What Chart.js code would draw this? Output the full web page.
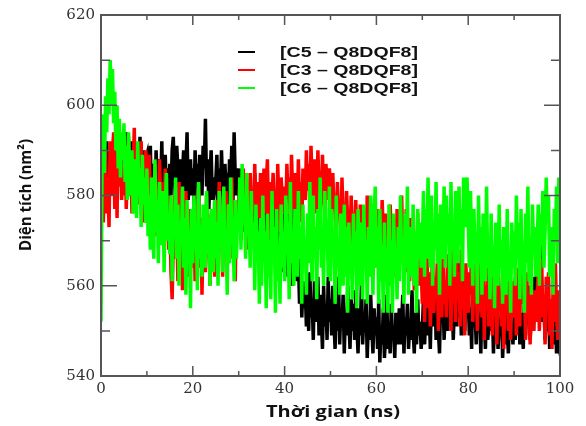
<!DOCTYPE html>
<html>
<head>
<meta charset="utf-8">
<script src="https://cdn.jsdelivr.net/npm/chart.js@4"></script>
<style>
html, body { margin: 0; padding: 0; background: #fff; }
</style>
</head>
<body>
<canvas id="myChart" width="586" height="426"></canvas>
<script>
// series (nm2), one value every 0.25 ns from 0 to 100 ns
const seriesNames = ['[C5 \u2013 Q8DQF8]', '[C3 \u2013 Q8DQF8]', '[C6 \u2013 Q8DQF8]']
const seriesColors = ['#000000', '#ff0000', '#00ff00']
const xTicks = [0, 20, 40, 60, 80, 100]
const yTicks = [540, 560, 580, 600, 620]

const c5 = [
	594, 586, 590, 582, 588, 592, 584, 589, 581, 591, 585, 593, 583, 587, 580, 590, 586, 592, 582, 588,
	591, 583, 594, 586, 580, 589, 584, 592, 579, 587, 590, 582, 588, 585, 593, 581, 586, 590, 578, 588,
	589, 580, 586, 591, 578, 584, 587, 576, 590, 583, 579, 588, 582, 592, 577, 585, 589, 581, 586, 578,
	587, 580, 590, 593, 584, 578, 591, 586, 582, 588, 577, 585, 590, 581, 586, 594, 579, 584, 588, 580,
	586, 578, 590, 583, 587, 576, 589, 584, 580, 591, 586, 597, 582, 588, 577, 585, 590, 579, 584, 581,
	583, 589, 577, 586, 580, 590, 582, 575, 587, 581, 585, 578, 588, 583, 591, 579, 594, 584, 580, 586,
	582, 574, 586, 577, 580, 572, 584, 576, 578, 570, 583, 575, 579, 571, 585, 574, 577, 569, 581, 573,
	578, 570, 582, 573, 576, 567, 580, 571, 574, 566, 579, 569, 575, 564, 577, 570, 572, 563, 576, 568,
	574, 565, 571, 562, 576, 567, 569, 560, 573, 585, 568, 561, 566, 556, 564, 553, 561, 555, 559, 551,
	559, 550, 563, 553, 557, 548, 561, 554, 552, 562, 549, 558, 553, 546, 560, 551, 556, 548, 562, 552,
	557, 549, 560, 552, 546, 556, 550, 562, 547, 555, 551, 558, 545, 554, 549, 560, 553, 546, 557, 550,
	556, 548, 559, 551, 545, 555, 549, 561, 547, 553, 550, 557, 544, 552, 548, 558, 551, 545, 555, 549,
	553, 546, 557, 543, 551, 547, 555, 544, 549, 558, 546, 552, 545, 556, 548, 550, 544, 554, 547, 551,
	555, 547, 552, 558, 545, 553, 549, 556, 546, 551, 548, 559, 550, 545, 554, 547, 557, 549, 552, 546,
	550, 557, 547, 554, 560, 549, 555, 546, 558, 551, 553, 562, 548, 556, 550, 545, 557, 552, 559, 548,
	554, 560, 550, 557, 563, 552, 558, 548, 556, 561, 551, 565, 553, 559, 549, 555, 562, 550, 557, 553,
	558, 549, 555, 546, 561, 551, 554, 547, 559, 550, 553, 545, 557, 549, 552, 546, 556, 548, 551, 554,
	550, 556, 545, 553, 548, 558, 546, 552, 549, 555, 544, 551, 547, 557, 550, 545, 554, 548, 552, 547,
	553, 548, 556, 550, 559, 547, 554, 551, 546, 557, 549, 555, 552, 560, 548, 553, 558, 550, 562, 555,
	568, 574, 563, 571, 558, 552, 556, 548, 554, 550, 557, 546, 553, 549, 555, 547, 552, 545, 551, 548,
	550
]

const c3 = [
	578, 588, 574, 584, 590, 576, 583, 573, 592, 580, 586, 594, 577, 589, 575, 596, 582, 590, 579, 587,
	580, 591, 577, 586, 593, 582, 588, 576, 585, 595, 581, 589, 578, 587, 583, 592, 579, 586, 574, 590,
	585, 576, 589, 580, 572, 584, 578, 587, 571, 582, 575, 588, 579, 570, 583, 577, 586, 573, 580, 568,
	575, 563, 557, 570, 580, 566, 574, 561, 583, 569, 576, 559, 572, 565, 581, 568, 562, 577, 571, 564,
	566, 578, 561, 573, 569, 582, 564, 575, 558, 571, 577, 563, 580, 567, 572, 560, 576, 568, 574, 562,
	569, 579, 564, 583, 571, 575, 562, 578, 567, 581, 573, 565, 577, 570, 584, 566, 574, 561, 579, 572,
	575, 584, 570, 580, 586, 574, 582, 568, 579, 576, 585, 572, 581, 577, 587, 573, 583, 578, 575, 585,
	580, 573, 586, 576, 582, 588, 575, 583, 571, 579, 585, 577, 581, 574, 587, 578, 572, 584, 579, 576,
	582, 576, 587, 579, 584, 573, 589, 581, 577, 585, 580, 575, 588, 578, 583, 574, 586, 582, 579, 590,
	581, 587, 577, 591, 583, 579, 588, 584, 576, 590, 582, 585, 578, 589, 580, 575, 587, 583, 579, 586,
	582, 574, 585, 577, 580, 572, 583, 576, 579, 570, 584, 575, 578, 571, 581, 574, 577, 569, 580, 573,
	576, 568, 579, 571, 574, 566, 578, 572, 569, 577, 573, 565, 580, 570, 575, 567, 578, 571, 564, 576,
	570, 577, 566, 574, 568, 579, 572, 564, 576, 569, 573, 563, 578, 570, 566, 575, 571, 562, 577, 568,
	574, 566, 580, 569, 572, 563, 577, 568, 571, 561, 575, 567, 573, 559, 570, 564, 576, 560, 572, 565,
	556, 566, 552, 562, 568, 555, 563, 551, 560, 567, 554, 561, 557, 565, 550, 563, 558, 553, 566, 556,
	561, 553, 567, 557, 564, 550, 569, 556, 562, 552, 566, 558, 563, 551, 568, 555, 560, 549, 565, 557,
	554, 563, 558, 570, 552, 565, 557, 561, 550, 566, 555, 562, 553, 567, 548, 560, 556, 564, 551, 559,
	557, 549, 563, 553, 560, 547, 566, 554, 558, 551, 562, 546, 559, 555, 564, 550, 557, 548, 561, 553,
	555, 562, 549, 558, 564, 551, 572, 566, 556, 560, 548, 563, 553, 558, 547, 561, 554, 550, 559, 552,
	557, 564, 550, 560, 566, 553, 558, 547, 562, 555, 563, 549, 557, 546, 561, 552, 565, 554, 548, 559,
	556
]

const c6 = [
	552, 590, 598, 585, 602, 594, 606, 598, 610, 600, 608, 596, 603, 590, 600, 586, 597, 584, 594, 588,
	596, 583, 591, 579, 594, 585, 580, 590, 576, 588, 583, 575, 592, 580, 586, 573, 589, 578, 584, 574,
	586, 571, 580, 568, 584, 575, 566, 588, 572, 579, 565, 583, 574, 569, 581, 563, 577, 585, 570, 576,
	567, 580, 561, 576, 571, 584, 566, 578, 560, 574, 569, 582, 564, 575, 558, 579, 568, 572, 555, 577,
	565, 580, 568, 574, 559, 583, 566, 571, 562, 578, 570, 564, 581, 567, 575, 560, 577, 569, 563, 579,
	566, 574, 560, 581, 569, 576, 563, 582, 567, 571, 558, 578, 565, 584, 570, 573, 561, 579, 566, 575,
	572, 584, 568, 587, 575, 579, 566, 585, 571, 576, 564, 581, 569, 574, 559, 578, 567, 572, 556, 575,
	560, 580, 565, 572, 555, 576, 562, 568, 557, 581, 566, 573, 554, 577, 561, 569, 556, 578, 564, 572,
	561, 580, 568, 574, 557, 583, 565, 572, 560, 577, 569, 562, 581, 566, 573, 556, 578, 564, 570, 558,
	576, 565, 583, 569, 561, 580, 566, 573, 557, 577, 568, 584, 564, 570, 560, 581, 569, 574, 562, 582,
	561, 577, 568, 572, 556, 580, 564, 570, 558, 576, 566, 560, 578, 562, 573, 554, 574, 565, 569, 557,
	576, 564, 572, 555, 577, 566, 560, 574, 557, 578, 565, 570, 556, 573, 562, 580, 568, 558, 576, 582,
	564, 573, 556, 577, 561, 569, 554, 574, 562, 566, 554, 578, 560, 570, 554, 576, 564, 568, 557, 573,
	561, 580, 565, 570, 556, 576, 564, 582, 558, 573, 568, 562, 578, 560, 572, 554, 577, 566, 574, 564,
	569, 581, 562, 577, 566, 584, 572, 564, 580, 560, 574, 568, 583, 565, 576, 558, 578, 570, 566, 582,
	564, 580, 570, 576, 560, 583, 568, 574, 562, 581, 572, 565, 582, 569, 577, 561, 584, 573, 580, 584,
	574, 564, 581, 569, 560, 577, 566, 572, 556, 580, 565, 573, 558, 576, 568, 561, 582, 564, 570, 557,
	576, 562, 569, 555, 574, 565, 560, 578, 564, 570, 556, 573, 566, 558, 577, 561, 568, 554, 574, 564,
	572, 560, 580, 566, 574, 557, 577, 564, 569, 554, 576, 565, 582, 561, 570, 558, 578, 568, 573, 562,
	566, 578, 560, 576, 569, 581, 564, 572, 584, 574, 580, 562, 573, 568, 558, 577, 570, 582, 565, 584,
	574
]

const times = c5.map((_, i) => i * 0.25)
const toPoints = (values) => values.map((v, i) => ({ x: times[i], y: v }))

// frame, inner ticks, legend and axis titles
const decorations = {
	id: 'decorations',
	afterDatasetsDraw(chart) {
		const { ctx, chartArea: a, scales } = chart
		ctx.save()
		ctx.strokeStyle = '#555'
		ctx.lineWidth = 1.5
		ctx.beginPath()
		for (let v = 0; v <= 100; v += 10) {
			const px = scales.x.getPixelForValue(v)
			const len = v % 20 === 0 ? 10 : 5
			ctx.moveTo(px, a.bottom)
			ctx.lineTo(px, a.bottom - len)
			ctx.moveTo(px, a.top)
			ctx.lineTo(px, a.top + len)
		}
		for (let v = 540; v <= 620; v += 10) {
			const py = scales.y.getPixelForValue(v)
			const len = v % 20 === 0 ? 16 : 9
			ctx.moveTo(a.left, py)
			ctx.lineTo(a.left + len, py)
			ctx.moveTo(a.right, py)
			ctx.lineTo(a.right - len, py)
		}
		ctx.stroke()
		ctx.lineWidth = 2
		ctx.strokeRect(a.left, a.top, a.right - a.left, a.bottom - a.top)

		// legend
		ctx.textBaseline = 'middle'
		ctx.textAlign = 'left'
		ctx.font = 'bold 15px "Liberation Sans", Arial, sans-serif'
		seriesNames.forEach((name, i) => {
			const yy = 52 + i * 18
			ctx.strokeStyle = seriesColors[i]
			ctx.lineWidth = 2
			ctx.beginPath()
			ctx.moveTo(238, yy)
			ctx.lineTo(255, yy)
			ctx.stroke()
			const w = ctx.measureText(name).width
			ctx.save()
			ctx.translate(280, yy + 1)
			ctx.scale(138 / w, 1)
			ctx.fillStyle = '#111'
			ctx.fillText(name, 0, 0)
			ctx.restore()
		})

		// axis titles
		ctx.fillStyle = '#111'
		ctx.font = 'bold 16px "Open Sans", sans-serif'
		ctx.textAlign = 'center'
		const xt = 'Th\u1eddi gian (ns)'
		let w = ctx.measureText(xt).width
		ctx.save()
		ctx.translate(333, 412)
		ctx.scale(134 / w, 1)
		ctx.fillText(xt, 0, 0)
		ctx.restore()

		const yt = 'Di\u1ec7n t\u00edch (nm\u00b2)'
		w = ctx.measureText(yt).width
		ctx.save()
		ctx.translate(26, 195)
		ctx.rotate(-Math.PI / 2)
		ctx.scale(112 / w, 1)
		ctx.fillText(yt, 0, 0)
		ctx.restore()
		ctx.restore()
	},
}

const ctx = document.getElementById('myChart').getContext('2d')
const myChart = new Chart(ctx, {
	type: 'line',
	data: {
		datasets: [c5, c3, c6].map((values, i) => ({
			label: seriesNames[i],
			data: toPoints(values),
			borderColor: seriesColors[i],
			backgroundColor: seriesColors[i],
			borderWidth: 3.5,
			borderJoinStyle: 'miter',
			pointRadius: 0,
			tension: 0,
			order: 2 - i,
		})),
	},
	options: {
		responsive: false,
		animation: false,
		layout: { padding: { left: 0, top: 15, right: 26, bottom: 0 } },
		plugins: {
			legend: { display: false },
			tooltip: { enabled: false },
		},
		scales: {
			x: {
				type: 'linear',
				min: 0,
				max: 100,
				afterFit: (s) => { s.height = 50 },
				afterBuildTicks: (s) => { s.ticks = xTicks.map((v) => ({ value: v })) },
				grid: { display: false, drawTicks: false },
				border: { display: false },
				ticks: {
					padding: 4,
					color: '#333',
					font: { family: '"DejaVu Serif", serif', size: 15 },
				},
			},
			y: {
				min: 540,
				max: 620,
				afterFit: (s) => { s.width = 101 },
				afterBuildTicks: (s) => { s.ticks = yTicks.map((v) => ({ value: v })) },
				grid: { display: false, drawTicks: false },
				border: { display: false },
				ticks: {
					padding: 6,
					color: '#333',
					font: { family: '"DejaVu Serif", serif', size: 15 },
				},
			},
		},
	},
	plugins: [decorations],
})
</script>
</body>
</html>
